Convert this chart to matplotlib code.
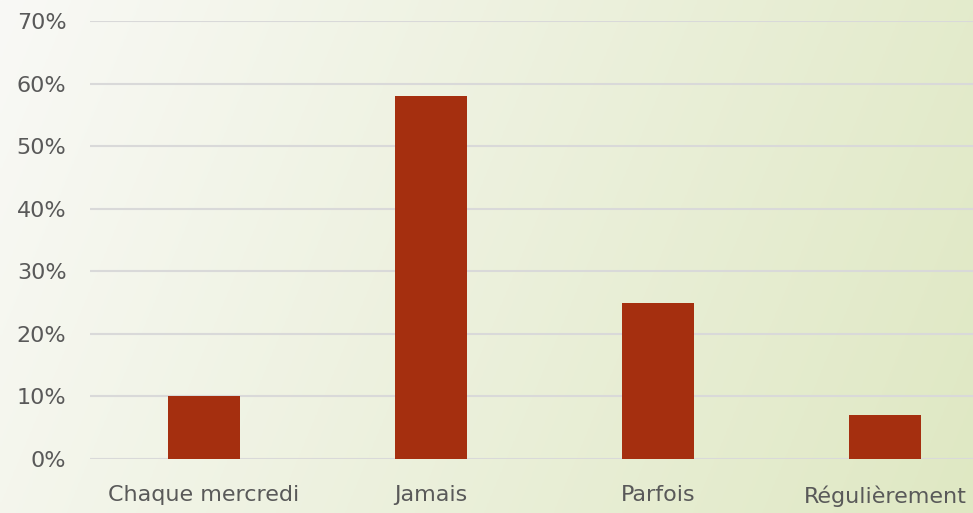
import matplotlib.pyplot as plt
import numpy as np

categories = ['Chaque mercredi', 'Jamais', 'Parfois', 'Régulièrement']
values = [10, 58, 25, 7]
yticks = [0, 10, 20, 30, 40, 50, 60, 70]

plt.rcParams['font.family'] = ['DejaVu Sans']

fig = plt.figure(figsize=(9.73, 5.13), dpi=100)

# gradient background
bg = fig.add_axes([0, 0, 1, 1])
gx, gy = np.meshgrid(np.linspace(0, 1, 300), np.linspace(0, 1, 200))
t = np.clip(0.82 * gx + 0.18 * gy, 0, 1)
c0 = np.array([249, 249, 246]) / 255
c1 = np.array([223, 232, 195]) / 255
img = c0[None, None, :] * (1 - t[..., None]) + c1[None, None, :] * t[..., None]
bg.imshow(img, aspect='auto', extent=[0, 1, 0, 1], origin='upper')
bg.axis('off')

ax = fig.add_axes([90 / 973, 54 / 513, 909 / 973, 438 / 513])
ax.patch.set_alpha(0)
x = np.arange(len(categories))
ax.bar(x, values, width=0.317, color='#A52F0F', zorder=3)
ax.set_xlim(-0.5, 3.5)
ax.set_ylim(0, 70)
ax.set_yticks(yticks)
ax.set_yticklabels([f'{v}%' for v in yticks])
ax.set_xticks(x)
ax.set_xticklabels(categories)
ax.grid(axis='y', color='#D9D9D9', linewidth=1.5, zorder=0)
for s in ax.spines.values():
    s.set_visible(False)
ax.tick_params(axis='both', length=0, colors='#595959', labelsize=16)
ax.tick_params(axis='y', pad=17)
ax.tick_params(axis='x', pad=19)
for lab in ax.get_yticklabels():
    lab.set_horizontalalignment('right')

fig.savefig('out.png', dpi=100)
